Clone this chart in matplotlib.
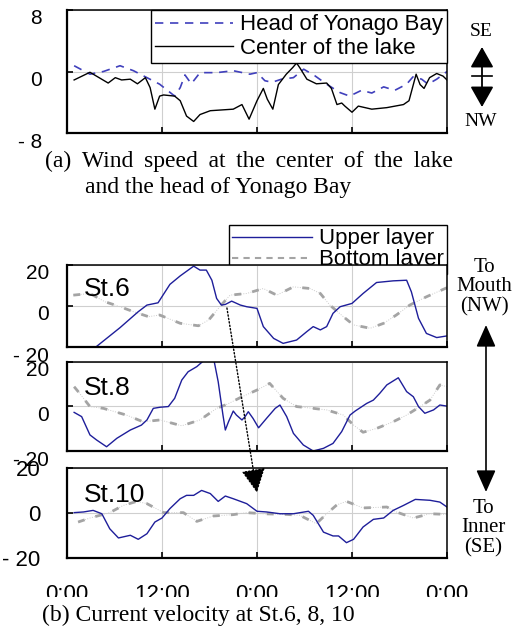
import matplotlib
matplotlib.use("Agg")
import matplotlib.pyplot as plt
from matplotlib.lines import Line2D
from matplotlib.patches import ConnectionPatch, FancyArrowPatch, Rectangle, ArrowStyle
from matplotlib.transforms import ScaledTranslation

plt.rcParams['font.family'] = ['Liberation Sans', 'DejaVu Sans']

# hours from 0:00 of the first day
time_ticks = [0, 12, 24, 36, 48]
time_labels = ['0:00', '12:00', '0:00', '12:00', '0:00']

# (a) wind speed, m/s (+ = SE, - = NW)
t_center = [0.9, 2.9, 5.2, 6.1, 6.9, 8.0, 8.9, 9.9, 10.5, 11.1, 11.7, 12.2, 13.6, 14.3, 15.1, 16.0, 16.8,
            18.1, 21.0, 22.1, 23.0, 24.0, 24.8, 25.3, 26.0, 26.7, 27.7, 28.5, 29.0, 29.4, 30.3, 31.5, 32.8,
            33.4, 34.1, 34.7, 35.1, 36.0, 36.8, 38.5, 40.4, 42.5, 43.2, 44.1, 44.6, 45.1, 45.8, 46.7, 47.5, 48.0]
wind_center = [-1.1, -0.1, -1.5, -0.8, -1.1, -1.0, -1.6, -0.8, -2.1, -4.9, -3.2, -3.05, -3.2, -3.8, -5.8, -6.5,
               -5.6, -5.1, -4.9, -4.3, -6.2, -3.8, -2.2, -3.6, -4.9, -1.7, -0.35, 0.5, 1.1, 0.5, -1.0, -1.6,
               -1.5, -2.2, -4.3, -4.1, -4.5, -5.3, -4.5, -4.9, -4.7, -4.3, -3.8, -0.35, -1.7, -2.2, -0.8,
               -0.26, -0.6, -1.1]
t_head = [0.9, 2.9, 4.6, 6.7, 8.4, 10.1, 11.7, 13.6, 14.3, 14.9, 15.7, 16.8, 18.9, 21.0, 23.1, 24.0, 25.0,
          25.9, 27.1, 28.6, 29.9, 31.3, 32.8, 34.5, 35.7, 37.2, 38.5, 40.0, 41.4, 42.9, 43.7, 44.8, 45.6,
          46.7, 48.0]
wind_head = [0.75, -0.35, 0.0, 0.75, 0.1, -0.8, -1.65, -3.2, -2.1, -0.45, -1.6, -0.15, -0.15, 0.1, -0.35,
             -0.15, -1.2, -1.4, -1.0, -0.8, 0.3, -0.55, -1.65, -2.75, -3.2, -2.45, -2.8, -2.0, -2.45, -1.65,
             -0.7, -1.0, -1.65, -1.0, 0.0]

# (b) current velocity, cm/s (+ = to mouth)
t6_up = [3.6, 6.7, 9.0, 10.1, 11.5, 13.0, 14.3, 16.0, 16.8, 17.6, 18.3, 18.9, 19.5, 20.0, 20.8, 21.9, 22.7,
         24.0, 24.8, 26.1, 27.3, 29.0, 30.3, 31.1, 32.0, 32.8, 33.6, 34.5, 36.0, 37.4, 39.1, 41.2, 42.9,
         43.5, 44.4, 45.4, 46.7, 48.0]
v6_up = [-20.0, -10.5, -2.8, 0.4, 1.5, 10.4, 14.5, 19.2, 17.3, 17.3, 12.4, 3.6, 0.4, 0.7, 2.3, 0.4, -0.4,
         -1.2, -10.0, -15.7, -18.1, -16.5, -12.4, -10.0, -11.6, -10.0, -3.6, -0.4, 1.2, 6.0, 11.3, 12.1,
         12.4, 6.8, -6.0, -13.3, -15.3, -14.5]
t6_bot = [0.8, 2.9, 4.8, 6.7, 8.4, 10.3, 11.7, 14.3, 16.6, 17.9, 19.3, 20.6, 22.7, 24.8, 26.5, 28.6, 30.7,
          32.0, 33.2, 34.9, 36.2, 38.3, 40.0, 41.6, 43.3, 45.4, 48.0]
v6_bot = [5.2, 6.0, 2.0, -0.4, -2.8, -5.2, -4.4, -8.4, -9.6, -6.8, -0.4, 5.2, 6.0, 8.4, 5.2, 9.2, 8.4,
          6.0, 0.4, -5.2, -9.2, -10.8, -8.4, -4.4, 0.4, 4.4, 8.8]

t8_up = [0.9, 1.85, 2.9, 3.75, 5.0, 6.3, 8.0, 9.4, 10.1, 10.9, 11.75, 12.8, 13.6, 14.5, 15.3, 16.4, 17.6,
         18.6, 19.1, 19.7, 20.0, 20.4, 21.0, 21.4, 22.1, 22.5, 22.9, 23.5, 24.2, 25.2, 26.3, 26.9, 27.75,
         28.6, 29.85, 31.1, 32.4, 33.6, 34.7, 35.75, 36.4, 37.85, 38.7, 39.5, 40.4, 41.85, 42.9, 43.75,
         44.4, 45.2, 46.3, 47.1, 48.0]
v8_up = [-2.7, -4.6, -12.8, -15.1, -18.1, -14.3, -10.6, -8.4, -6.1, -0.9, -0.4, -0.1, 3.6, 11.8, 15.5,
         17.8, 21.5, 20.0, 11.0, -3.9, -10.6, -6.9, -2.1, -3.9, -6.1, -4.6, -2.4, -5.4, -9.6, -5.4, -0.9,
         0.6, -4.6, -12.1, -17.3, -20.0, -18.8, -16.6, -11.3, -3.9, -2.1, 1.3, 2.8, 5.8, 9.6, 12.8, 6.6,
         4.3, -0.1, -3.1, -1.6, 0.6, 0.1]
t8_bot = [0.9, 1.6, 2.9, 4.6, 7.5, 9.6, 11.75, 14.5, 16.8, 18.9, 20.2, 22.1, 24.0, 25.6, 27.3, 29.0, 31.1,
          32.8, 34.9, 36.2, 37.4, 39.1, 41.2, 42.9, 44.6, 45.85, 47.1, 48.0]
v8_bot = [8.8, 5.8, -0.1, -0.9, -3.9, -6.9, -6.1, -8.7, -6.1, -0.9, 0.9, 4.3, 7.3, 10.3, 3.6, -0.1, -0.9,
          -1.6, -3.9, -8.4, -11.6, -9.9, -6.9, -3.9, -0.1, 2.8, 9.6, 8.8]

t10_up = [0.9, 2.1, 3.3, 4.4, 5.4, 6.5, 8.0, 9.0, 10.1, 11.1, 12.0, 13.0, 14.3, 15.1, 16.0, 17.0, 18.1,
          19.1, 20.0, 21.0, 22.7, 24.0, 25.2, 26.9, 28.6, 30.5, 31.1, 32.4, 33.6, 34.3, 35.3, 36.2, 37.4,
          38.7, 40.0, 41.2, 42.5, 44.0, 45.85, 47.1, 48.0]
v10_up = [0.1, 0.4, 1.1, -0.4, -7.1, -11.2, -10.0, -11.8, -9.3, -4.1, -2.3, 1.9, 6.3, 7.8, 7.8, 10.0, 8.6,
          5.1, 7.5, 6.3, 4.1, 0.7, 0.4, -0.4, -0.4, 0.7, -1.1, -8.6, -10.3, -10.3, -13.3, -11.8, -6.3,
          -2.9, -2.3, 1.1, 3.3, 6.0, 5.6, 4.8, 2.6]
t10_bot = [1.4, 2.9, 5.4, 7.1, 8.8, 10.1, 12.2, 14.7, 16.4, 18.5, 21.0, 22.7, 24.8, 27.75, 29.4, 31.5,
           32.8, 34.1, 35.3, 37.4, 40.4, 41.6, 43.75, 45.85, 48.0]
v10_bot = [-4.1, -2.3, 0.1, 3.3, 5.1, 4.1, 0.1, 0.1, -3.8, -1.4, -0.8, 0.1, -0.4, -0.7, -1.1, -4.8, -0.4,
           3.6, 5.1, 2.2, 2.6, 0.4, -2.3, -0.4, -0.7]

station_names = ['St.6', 'St.8', 'St.10']
upper_t = [t6_up, t8_up, t10_up]
upper_v = [v6_up, v8_up, v10_up]
bottom_t = [t6_bot, t8_bot, t10_bot]
bottom_v = [v6_bot, v8_bot, v10_bot]

W, H = 519, 633
fig = plt.figure(figsize=(W / 100, H / 100), dpi=100)

navy = '#1e1e9a'
blue = '#4040bc'
gray = '#a4a4a4'
serif = ['Liberation Serif', 'DejaVu Serif']


def px_box(left, top, right, bottom):
    return [left / W, 1 - bottom / H, (right - left) / W, (bottom - top) / H]


def style_axes(ax, lim, ylabels, pad):
    ax.set_xlim(0, 48)
    ax.set_ylim(-lim, lim)
    ax.set_xticks(time_ticks)
    ax.set_yticks([lim, 0, -lim], ylabels)
    ax.grid(True, color='#cfcfcf', lw=0.8)
    ax.tick_params(direction='in', length=4, width=1.2, labelsize=15, pad=pad,
                   top=False, right=False, labelbottom=False)
    for s in ax.spines.values():
        s.set_linewidth(1.1)
    ax.spines['bottom'].set_linewidth(1.6)
    ax.spines['left'].set_linewidth(1.6)
    off = ScaledTranslation(0, -7 / 100, fig.dpi_scale_trans)
    for lbl in ax.get_yticklabels():
        lbl.set_transform(lbl.get_transform() + off)


# ---- (a) wind ----
ax_w = fig.add_axes(px_box(67, 10, 447, 133))
ax_w.plot(t_head, wind_head, color=blue, lw=1.2, ls=(0, (5, 4)), label='Head of Yonago Bay')
ax_w.plot(t_center, wind_center, color='black', lw=1.0, label='Center of the lake')
style_axes(ax_w, 8, ['8', '0', '- 8'], 18)
leg = ax_w.legend(loc='upper right', bbox_to_anchor=(1, 1), borderaxespad=0, fancybox=False,
                  edgecolor='black', framealpha=1, fontsize=16, handlelength=3.5, handletextpad=0.3,
                  labelspacing=0.1, borderpad=0.2)
leg.get_frame().set_linewidth(1.0)

# ---- (b) currents ----
boxes = [(264.5, 347.3), (361.7, 451.0), (468.0, 557.7)]
axes_c = []
for i, (top, bot) in enumerate(boxes):
    ax = fig.add_axes(px_box(67, top, 447, bot))
    ax.plot(bottom_t[i], bottom_v[i], color='#cccccc', lw=0.7, ls=(0, (1, 1.5)))
    ax.plot(bottom_t[i], bottom_v[i], color=gray, lw=2.0, ls=(0, (2.5, 4)))
    ax.plot(upper_t[i], upper_v[i], color=navy, lw=1.0)
    style_axes(ax, 20, ['20', '0', '- 20'], 13)
    ax.text(0.045, 0.70, station_names[i], transform=ax.transAxes, fontsize=19, va='center')
    axes_c.append(ax)

axes_c[-1].set_xticks(time_ticks, time_labels)
axes_c[-1].tick_params(labelbottom=True, labelsize=16, pad=19)

handles = [Line2D([], [], color=navy, lw=1.0),
           Line2D([], [], color=gray, lw=1.5, ls=(0, (3, 2.5)))]
leg2 = fig.legend(handles, ['Upper layer', 'Bottom layer'], loc='upper right',
                  bbox_to_anchor=(447 / W, 1 - 225 / H), borderaxespad=0, fancybox=False,
                  edgecolor='black', framealpha=1, fontsize=16, handlelength=3.6, handletextpad=0.3,
                  labelspacing=0.0, borderpad=0.15)
leg2.get_frame().set_linewidth(1.0)
leg2.set_zorder(-1)

# dotted arrow from St.6 to St.10
con = ConnectionPatch(xyA=(20.2, -1.0), coordsA=axes_c[0].transData,
                      xyB=(24.0, 9.0), coordsB=axes_c[2].transData,
                      arrowstyle=ArrowStyle('-|>', head_length=1.0, head_width=0.5),
                      mutation_scale=15, lw=1.0, ls=(0, (1, 1.5)), color='black', zorder=10)
fig.add_artist(con)

# direction marks on the right
fig.text(481 / W, 1 - 32 / H, 'SE', family=serif, fontsize=14, ha='center', va='center')
fig.text(481 / W, 1 - 121 / H, 'NW', family=serif, fontsize=14, ha='center', va='center')
fig.add_artist(FancyArrowPatch((482 / W, 1 - 107 / H), (482 / W, 1 - 47 / H), transform=fig.transFigure,
                               arrowstyle=ArrowStyle('<|-|>', head_length=0.85, head_width=0.48),
                               mutation_scale=15, shrinkA=0, shrinkB=0, lw=1.3, color='black'))
fig.add_artist(Line2D([472 / W, 492 / W], [1 - 76 / H, 1 - 76 / H], transform=fig.transFigure,
                      color='black', lw=1.2))

fig.text(484 / W, 1 - 287 / H, 'To\nMouth\n(NW)', family=serif, fontsize=15, ha='center', va='center',
         linespacing=1.05)
fig.text(483 / W, 1 - 528 / H, 'To\nInner\n(SE)', family=serif, fontsize=15, ha='center', va='center',
         linespacing=1.05)
fig.add_artist(FancyArrowPatch((486 / W, 1 - 492 / H), (486 / W, 1 - 325 / H), transform=fig.transFigure,
                               arrowstyle=ArrowStyle('<|-|>', head_length=0.9, head_width=0.4),
                               mutation_scale=15, shrinkA=0, shrinkB=0, lw=1.2, color='black'))

# the lower part of the time labels is hidden in the original
fig.add_artist(Rectangle((0, 0), 1, (H - 597) / H, transform=fig.transFigure,
                         facecolor='white', edgecolor='none', zorder=1))

# first caption line is justified in the original, hence the wider word gaps
fig.text(45 / W, 1 - 161 / H, ' \u2009'.join('(a) Wind speed at the center of the lake'.split(' ')),
         family=serif, fontsize=17, va='center')
fig.text(85 / W, 1 - 187 / H, 'and the head of Yonago Bay', family=serif, fontsize=17, va='center')
fig.text(42 / W, 1 - 615 / H, '(b) Current velocity at St.6, 8, 10', family=serif, fontsize=17,
         va='center')

fig.savefig('out.png', dpi=100)
